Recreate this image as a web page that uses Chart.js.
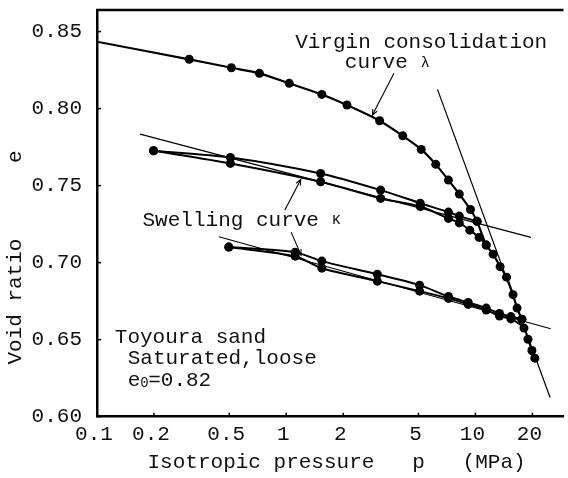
<!DOCTYPE html>
<html><head><meta charset="utf-8">
<script src="https://cdn.jsdelivr.net/npm/chart.js@4.4.1/dist/chart.umd.min.js"></script>
<style>html,body{margin:0;padding:0;background:#fff;overflow:hidden}canvas{display:block}</style>
</head><body>
<canvas id="c" width="568" height="478"></canvas>
<script>
const FONT = "'Liberation Mono','Courier New',monospace";
const INK = '#111';

// ticks
const xTickValues = [0.1, 0.2, 0.5, 1, 2, 5, 10, 20];
const xTickLabels = ['0.1', '0.2', '0.5', '1', '2', '5', '10', '20'];
const yTickValues = [0.60, 0.65, 0.70, 0.75, 0.80, 0.85];
const yTickLabels = ['0.60', '0.65', '0.70', '0.75', '0.80', '0.85'];

// virgin consolidation curve
const virginP = [0.1, 0.307, 0.513, 0.722, 1.037, 1.543, 2.094, 3.116, 4.13, 5.17, 6.17, 7.20, 8.22, 9.41, 10.2, 11.4, 12.4, 13.5, 14.6, 15.8, 16.6, 17.6];
const virginE = [0.8434, 0.832, 0.8265, 0.8229, 0.8164, 0.8092, 0.8023, 0.7921, 0.7823, 0.7735, 0.7638, 0.7536, 0.7445, 0.7345, 0.7268, 0.7114, 0.7055, 0.6974, 0.6906, 0.6792, 0.6705, 0.6633];

// first swelling loop (unload from ~10 MPa to 0.2 MPa, then reload)
const unload1P = [10.2, 8.22, 7.2, 5.11, 3.155, 1.52, 0.507, 0.199];
const unload1E = [0.7268, 0.7302, 0.7328, 0.7386, 0.7471, 0.7579, 0.7683, 0.7726];
const reload1P = [0.199, 0.507, 1.52, 3.155, 5.11, 7.2, 8.22, 9.34, 10.45, 11.4];
const reload1E = [0.7726, 0.7644, 0.7525, 0.7417, 0.7364, 0.7287, 0.7258, 0.7211, 0.7164, 0.7114];

// second swelling loop (unload from ~17.6 MPa to 0.5 MPa, then reload to 20 MPa)
const unload2P = [17.6, 15.4, 13.4, 11.4, 9.16, 7.2, 5.07, 3.03, 1.543, 1.115, 0.497];
const unload2E = [0.6633, 0.665, 0.667, 0.6705, 0.6742, 0.678, 0.6854, 0.6925, 0.701, 0.7068, 0.7101];
const reload2P = [0.497, 1.115, 1.543, 3.03, 5.07, 7.2, 9.16, 11.4, 13.4, 15.4, 18.05, 18.95, 19.88, 20.6];
const reload2E = [0.7101, 0.7042, 0.6964, 0.688, 0.6815, 0.6768, 0.6729, 0.6692, 0.6653, 0.6635, 0.6575, 0.6503, 0.643, 0.638];

// tangent lines
const kappa1P = [0.169, 19.65];  const kappa1E = [0.7834, 0.7164];
const kappa2P = [0.4406, 25.0];  const kappa2E = [0.7168, 0.6571];
const lambdaP = [6.3, 24.8];     const lambdaE = [0.8125, 0.6125];

// annotation leaders [p0, e0, p1, e1] (arrow at p1,e1)
const leaderVirgin = [3.71, 0.8229, 2.855, 0.7958];
const leaderSwell1 = [0.984, 0.7341, 1.194, 0.754];
const leaderSwell2 = [1.062, 0.7198, 1.198, 0.7049];

const zip = (P, E) => P.map((p, i) => ({x: p, y: E[i]}));

const curve = (P, E, extra) => Object.assign({
  data: zip(P, E), showLine: true, borderColor: '#000', borderWidth: 2.2,
  pointRadius: 4.5, pointHoverRadius: 4.5, pointBackgroundColor: '#000', pointBorderWidth: 0,
  tension: 0.25
}, extra || {});
const thin = (P, E) => ({
  data: zip(P, E), showLine: true, borderColor: '#000', borderWidth: 1.2,
  pointRadius: 0, tension: 0
});

function arrowLine(ctx, x, y, L) {
  const x0 = x.getPixelForValue(L[0]), y0 = y.getPixelForValue(L[1]);
  const x1 = x.getPixelForValue(L[2]), y1 = y.getPixelForValue(L[3]);
  ctx.beginPath(); ctx.moveTo(x0, y0); ctx.lineTo(x1, y1); ctx.stroke();
  const a = Math.atan2(y1 - y0, x1 - x0), h = 6;
  ctx.beginPath();
  ctx.moveTo(x1 - h * Math.cos(a - 0.4), y1 - h * Math.sin(a - 0.4));
  ctx.lineTo(x1, y1);
  ctx.lineTo(x1 - h * Math.cos(a + 0.4), y1 - h * Math.sin(a + 0.4));
  ctx.stroke();
}

const annot = {
  id: 'annot',
  afterDatasetsDraw(chart) {
    const {ctx, chartArea: a, scales: {x, y}} = chart;
    ctx.save();
    ctx.strokeStyle = '#000';
    ctx.lineWidth = 2.5;
    ctx.beginPath(); ctx.moveTo(a.left - 1, a.top); ctx.lineTo(a.right, a.top); ctx.stroke();
    ctx.lineWidth = 1.5;
    xTickValues.forEach(v => { const px = x.getPixelForValue(v); ctx.beginPath(); ctx.moveTo(px, a.bottom); ctx.lineTo(px, a.bottom - 4); ctx.stroke(); });
    yTickValues.forEach(v => { const py = y.getPixelForValue(v); ctx.beginPath(); ctx.moveTo(a.left, py); ctx.lineTo(a.left + 4, py); ctx.stroke(); });
    ctx.lineWidth = 1.1;
    [leaderVirgin, leaderSwell1, leaderSwell2].forEach(L => arrowLine(ctx, x, y, L));

    ctx.fillStyle = INK; ctx.textAlign = 'left'; ctx.textBaseline = 'middle';
    const T = (s, p, e, size, dx) => { ctx.font = size + 'px ' + FONT; ctx.fillText(s, x.getPixelForValue(p) + (dx || 0), y.getPixelForValue(e)); };
    T('Virgin consolidation', 1.115, 0.8432, 21);
    T('curve ', 2.04, 0.8299, 21);
    T('\u03bb', 2.04, 0.8299, 15, 76);
    T('Swelling curve ', 0.174, 0.7276, 21);
    T('\u03ba', 0.174, 0.7276, 16, 189);
    T('Toyoura sand', 0.1242, 0.6516, 21);
    T('Saturated,loose', 0.1453, 0.638, 21);
    T('e', 0.1453, 0.6237, 21);
    T('0', 0.1453, 0.6220, 14, 12.5);
    T('=0.82', 0.1453, 0.6237, 21, 20.5);
    ctx.restore();
  }
};

new Chart(document.getElementById('c'), {
  type: 'scatter',
  data: {
    datasets: [
      curve(virginP, virginE, {pointRadius: c => c.dataIndex === 0 ? 0 : 4.5}),
      curve(unload1P, unload1E, {borderWidth: 2}),
      curve(reload1P, reload1E, {borderWidth: 2}),
      curve(unload2P, unload2E, {borderWidth: 2}),
      curve(reload2P, reload2E, {borderWidth: 2}),
      thin(kappa1P, kappa1E),
      thin(kappa2P, kappa2E),
      thin(lambdaP, lambdaE)
    ]
  },
  options: {
    responsive: false, animation: false, devicePixelRatio: 1,
    layout: {padding: {top: 10, left: 0, right: 0, bottom: 0}},
    plugins: {legend: {display: false}, tooltip: {enabled: false}},
    scales: {
      x: {
        type: 'logarithmic', min: 0.1, max: 29.2, position: 'bottom',
        afterBuildTicks: s => { s.ticks = xTickValues.map(v => ({value: v})); },
        ticks: {callback: (v, i) => xTickLabels[i], font: {family: FONT, size: 21}, color: INK,
                maxRotation: 0, autoSkip: false, padding: -3, labelOffset: -3},
        grid: {display: false},
        border: {display: true, color: '#000', width: 2.5},
        title: {display: true, text: ' Isotropic pressure   p   (MPa)', font: {family: FONT, size: 21}, color: INK,
                padding: {top: 0, bottom: 3}},
        afterFit: s => { s.height = 61.3; s.paddingLeft = 0; s.paddingRight = 0; }
      },
      y: {
        type: 'linear', min: 0.6, max: 0.864,
        afterBuildTicks: s => { s.ticks = yTickValues.map(v => ({value: v})); },
        ticks: {callback: (v, i) => yTickLabels[i], font: {family: FONT, size: 21}, color: INK, padding: 7},
        grid: {display: false},
        border: {display: true, color: '#000', width: 2.5},
        title: {display: true, text: 'Void ratio      e       ', font: {family: FONT, size: 21}, color: INK,
                padding: {top: 3, bottom: 0}},
        afterFit: s => { s.width = 97; s.paddingTop = 0; s.paddingBottom = 0; }
      }
    }
  },
  plugins: [annot]
});
</script>
</body></html>
